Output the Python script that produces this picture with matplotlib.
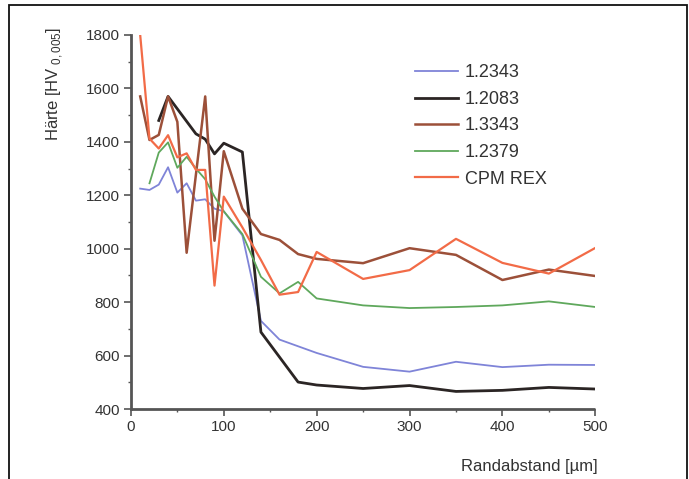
import matplotlib as mpl
import matplotlib.pyplot as plt
from matplotlib.patches import Rectangle
from matplotlib.ticker import MultipleLocator

mpl.rcParams.update({
    'font.family': ['Liberation Sans Narrow', 'Liberation Sans', 'DejaVu Sans'],
    'axes.edgecolor': '#555555',
    'xtick.color': '#555555',
    'ytick.color': '#555555',
    'xtick.labelcolor': '#333333',
    'ytick.labelcolor': '#333333',
})

# Hardness profiles, distance from surface in µm
x_1_2343 = [10, 20, 30, 40, 50, 60, 70, 80, 90, 100, 120, 140, 160, 180, 200, 250, 300, 350, 400, 450, 500]
hv_1_2343 = [1225, 1220, 1240, 1305, 1210, 1245, 1180, 1185, 1150, 1140, 1050, 730, 660, 635, 610, 558, 540, 577, 557, 566, 565]

x_1_2083 = [30, 40, 70, 80, 90, 100, 120, 140, 180, 200, 250, 300, 350, 400, 450, 500]
hv_1_2083 = [1480, 1570, 1430, 1410, 1355, 1395, 1362, 688, 501, 490, 477, 488, 466, 470, 481, 475]

x_1_3343 = [10, 20, 30, 40, 50, 60, 80, 90, 100, 120, 140, 160, 180, 200, 250, 300, 350, 400, 450, 500]
hv_1_3343 = [1570, 1407, 1426, 1570, 1475, 985, 1570, 1030, 1365, 1150, 1055, 1033, 980, 962, 946, 1002, 977, 883, 922, 898]

x_1_2379 = [20, 30, 40, 50, 60, 70, 80, 90, 100, 120, 140, 160, 180, 200, 250, 300, 350, 400, 450, 500]
hv_1_2379 = [1245, 1360, 1398, 1303, 1344, 1300, 1260, 1195, 1140, 1055, 895, 833, 876, 814, 788, 778, 782, 788, 803, 782]

x_cpm = [10, 20, 30, 40, 50, 60, 70, 80, 90, 100, 120, 140, 160, 180, 200, 250, 300, 350, 400, 450, 500]
hv_cpm = [1800, 1412, 1375, 1425, 1342, 1357, 1295, 1295, 862, 1195, 1080, 958, 828, 838, 988, 887, 920, 1037, 947, 907, 1003]

series = [
    ('1.2343', x_1_2343, hv_1_2343, '#7f84d8', 1.3),
    ('1.2083', x_1_2083, hv_1_2083, '#2b2524', 2.0),
    ('1.3343', x_1_3343, hv_1_3343, '#9c5039', 1.8),
    ('1.2379', x_1_2379, hv_1_2379, '#5fa85c', 1.3),
    ('CPM REX', x_cpm, hv_cpm, '#f26b47', 1.6),
]

fig = plt.figure(figsize=(6.89, 4.79), dpi=100)
ax = fig.add_axes([0.190, 0.146, 0.674, 0.781])

for name, xs, ys, col, lw in series:
    ax.plot(xs, ys, color=col, lw=lw, label=name)

ax.set_xlim(0, 500)
ax.set_ylim(400, 1800)
ax.xaxis.set_major_locator(MultipleLocator(100))
ax.xaxis.set_minor_locator(MultipleLocator(50))
ax.yaxis.set_major_locator(MultipleLocator(200))
ax.yaxis.set_minor_locator(MultipleLocator(100))
ax.tick_params(which='major', direction='out', length=5, width=1.2, labelsize=11, pad=3)
ax.tick_params(which='minor', direction='out', length=2.5, width=1.0)

for side in ('top', 'right'):
    ax.spines[side].set_visible(False)
for side in ('left', 'bottom'):
    ax.spines[side].set_linewidth(2.0)
ax.spines['bottom'].set_capstyle('butt')

leg = ax.legend(loc='upper left', bbox_to_anchor=(0.596, 0.941), frameon=False,
                fontsize=13, handlelength=2.4, handletextpad=0.35,
                labelspacing=0.53, borderaxespad=0)
for t in leg.get_texts():
    t.set_color('#333333')

fig.text(55 / 689, 1 - 27 / 479, r'Härte [HV$_{\mathregular{\ 0,005}}$]', rotation=90,
         ha='center', va='top', fontsize=12, color='#333333')
fig.text(598 / 689, 1 - 466 / 479, 'Randabstand [µm]', ha='right', va='center',
         fontsize=12, color='#333333')

# thin frame round the figure, open at the bottom edge
fig.patches.append(Rectangle((9 / 689, -0.05), 678 / 689, 1.05 - 5 / 479,
                             transform=fig.transFigure, fill=False,
                             edgecolor='#111111', lw=1.3))

fig.savefig('out.png', dpi=100)
